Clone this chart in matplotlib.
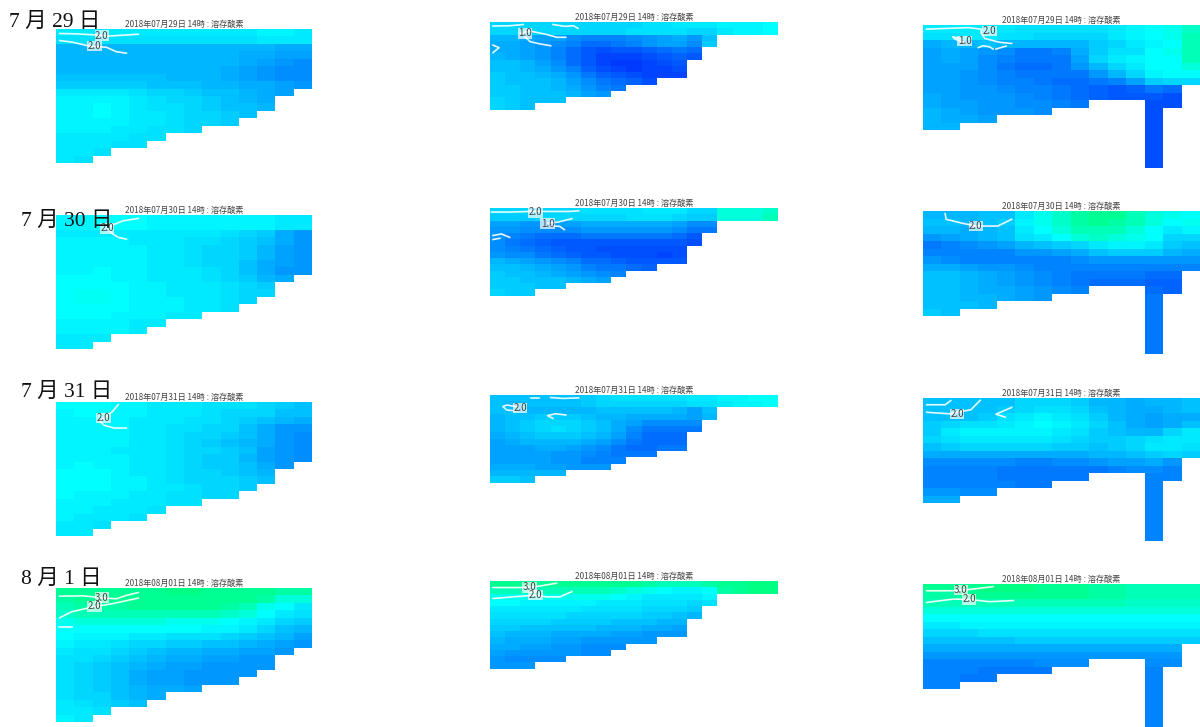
import numpy as np
import matplotlib
matplotlib.use('Agg')
import matplotlib.pyplot as plt
from matplotlib.colors import LinearSegmentedColormap

n = np.nan

#Dates and labels
day_labels = ['7 月 29 日', '7 月 30 日', '7 月 31 日', '8 月 1 日']
day_stamps = ['2018年07月29日', '2018年07月30日', '2018年07月31日', '2018年08月01日']

#Cell values (0 = blue, 10 = cyan, 14 = green)
west_0729 = [
    [9, 9, 9, 9, 9, 9, 9, 9, 9, 9, 9, 9.5, 9.5, 9],
    [8.5, 8.5, 8.5, 8.5, 8.5, 8.5, 8.5, 8.5, 8.5, 8.5, 8.5, 9, 9, 9],
    [6.5, 6.5, 6.5, 6.5, 6.5, 6.5, 6.5, 6.5, 6.5, 6.5, 6.5, 6.5, 6, 6],
    [6.5, 6.5, 6.5, 6.5, 6.5, 6.5, 6.5, 6.5, 6.5, 6.5, 6, 6, 5.5, 5.5],
    [6.5, 6.5, 6.5, 6.5, 6.5, 6.5, 6.5, 6.5, 6.5, 6.5, 6, 5.5, 5, 4.5],
    [6.5, 6.5, 6.5, 6.5, 6.5, 6.5, 6.5, 6.5, 6.5, 6, 5.5, 5, 4.5, 4.5],
    [7, 7, 7, 7, 7, 7, 6.5, 6.5, 6.5, 6, 5.5, 5, 4.5, 4.5],
    [7.5, 7.5, 7.5, 7.5, 7.5, 7, 7, 7, 6.5, 6.5, 6, 6, 5.5, 5],
    [9, 9, 9, 9, 8.5, 8, 8, 7.5, 7, 7, 6.5, 6, 5.5],
    [9.5, 9.5, 9.5, 9.5, 9, 8.5, 8, 8, 7.5, 7, 6.5, 6],
    [9.5, 9.5, 10, 9.5, 9, 8.5, 8.5, 8, 7.5, 7, 7, 6.5],
    [9.5, 9.5, 10, 9.5, 9, 9, 8.5, 8, 8, 7.5, 7],
    [9.5, 9.5, 9.5, 9.5, 9, 9, 8.5, 8, 8, 7.5],
    [9.5, 9.5, 9.5, 9, 9, 8.5, 8.5, 8],
    [9, 9, 9, 9, 8.5, 8.5],
    [9, 9, 9, 8.5, 8.5],
    [9, 9, 8.5],
    [9, 8.5],
]
west_0730 = [
    [9.5, 9.5, 10, 10, 10, 9.5, 9.5, 9.5, 9.5, 9.5, 9.5, 9.5, 9, 9],
    [9.5, 9.5, 10, 10, 10, 9.5, 9.5, 9.5, 9.5, 9.5, 9.5, 9.5, 9, 9],
    [9, 9, 9, 9, 9, 9, 9, 9, 9, 8.5, 8, 7.5, 6, 5],
    [9.5, 9.5, 9.5, 9.5, 9, 9, 9, 8.5, 8.5, 8, 7.5, 7, 6, 5],
    [9.5, 9.5, 9.5, 9.5, 9.5, 9, 9, 8.5, 8, 8, 7.5, 6.5, 5.5, 5],
    [9.5, 9.5, 9.5, 9.5, 9.5, 9, 9, 8.5, 8, 8, 7.5, 6.5, 5.5, 5],
    [9.5, 9.5, 9.5, 9.5, 9.5, 9, 9, 8.5, 8, 8, 7, 6, 5.5, 5],
    [9.5, 9.5, 10, 9.5, 9.5, 9, 9, 9, 8.5, 8, 7, 6, 5, 5],
    [10, 10, 10, 9.5, 9.5, 9, 9, 9, 8.5, 8, 7.5, 6.5, 6],
    [10, 10, 10, 10, 9.5, 9.5, 9, 9, 9, 8.5, 8, 7.5],
    [10, 10.3, 10.3, 10, 9.5, 9.5, 9, 9, 9, 8.5, 8, 8],
    [10, 10.3, 10.3, 10, 9.5, 9.5, 9.5, 9, 9, 8.5, 8],
    [10, 10, 10, 10, 9.5, 9.5, 9.5, 9, 9, 8.5],
    [10, 10, 10, 9.5, 9.5, 9.5, 9, 9],
    [9.5, 9.5, 9.5, 9.5, 9, 9],
    [9.5, 9.5, 9.5, 9.5, 9],
    [9, 9, 9],
    [9, 9],
]
west_0731 = [
    [10, 10, 10, 9.5, 9.5, 9, 9, 9, 8.5, 8.5, 8.5, 8, 7.5, 7],
    [9.5, 10, 10, 9.5, 9.5, 9, 9, 9, 8.5, 8, 8, 8, 7, 7],
    [9.5, 9.5, 9.5, 9.5, 9, 9, 9, 8.5, 8.5, 8, 7.5, 7, 6.5, 6],
    [9.5, 9.5, 9.5, 9.5, 9, 9, 8.5, 8.5, 8, 8, 7, 6, 5, 5],
    [9.5, 9.5, 9.5, 9.5, 9, 9, 8.5, 8, 8, 7.5, 7, 6, 5, 4.5],
    [9.5, 9.5, 9.5, 9.5, 9, 9, 8.5, 8, 7.5, 7, 6.5, 6, 5, 4.5],
    [9.5, 9.5, 9.5, 9, 9, 9, 8.5, 8, 8, 7.5, 7, 5.5, 5, 4.5],
    [9.5, 9.5, 9.5, 9.5, 9, 9, 8.5, 8, 7.5, 7.5, 6.5, 5.5, 5, 4.5],
    [9.5, 10, 9.5, 9.5, 9, 9, 8.5, 8, 7.5, 7.5, 7, 6, 5],
    [10, 10, 10, 9.5, 9, 9, 8.5, 8, 8, 7.5, 7, 6.5],
    [10, 10, 10, 9.5, 9.5, 9, 8.5, 8, 8, 8, 7.5, 7],
    [10, 10, 10, 9.5, 9.5, 9, 9, 8.5, 8, 8, 7.5],
    [10, 9.5, 9.5, 9.5, 9, 9, 8.5, 8.5, 8, 8],
    [9.5, 9.5, 9.5, 9, 9, 9, 8.5, 8.5],
    [9.5, 9.5, 9, 9, 9, 8.5],
    [9.5, 9, 9, 9, 8.5],
    [9, 9, 8.5],
    [9, 9],
]
west_0801 = [
    [13, 13, 13, 13, 13, 13, 13.5, 13.5, 13, 13, 13, 13, 12.5, 12.5],
    [12.5, 13, 13, 13, 13, 13, 13, 13, 13, 13, 13, 12.5, 11, 11],
    [12, 12.5, 12.5, 12.5, 13, 13, 13, 13, 13, 12.5, 12, 10.5, 10, 9],
    [11.5, 12, 12, 12, 12, 12, 12, 12, 12, 11.5, 11, 10, 9, 8.5],
    [10.5, 11, 11, 11, 11, 11, 10.5, 10.5, 10.5, 10, 9.5, 9, 8, 7.5],
    [10, 10, 10, 10, 10, 10, 10, 10, 9.5, 9.5, 9, 8, 7, 6.5],
    [10, 9.5, 9.5, 9.5, 9, 9, 8.5, 8.5, 8.5, 8, 7.5, 7, 6.5, 5.5],
    [9.5, 9, 9, 8.5, 8, 8, 7.5, 7.5, 7, 7, 6.5, 6, 5.5, 5],
    [9, 8.5, 8.5, 8, 7.5, 7, 6.5, 6.5, 6, 6, 5.5, 5.5, 5],
    [8.5, 8.5, 8, 7.5, 7, 6.5, 6, 6, 5.5, 5.5, 5, 5],
    [8.5, 8, 7.5, 7, 6.5, 6, 5.5, 5.5, 5, 5, 5, 5],
    [8.5, 8, 7.5, 7, 6, 5.5, 5.5, 5, 5, 5, 5],
    [8.5, 8, 7.5, 7, 6, 5.5, 5.5, 5, 5, 5],
    [8.5, 8, 7.5, 7, 6.5, 6, 6, 5.5],
    [8.5, 8, 8, 7, 6.5, 6],
    [9, 8.5, 8, 7.5, 7],
    [9, 9, 8.5],
    [9.5, 9],
]

mid_0729 = [
    [8, 8, 8, 8, 8, 8, 8, 8, 8, 8, 8.5, 8.5, 9, 9, 9, 9.5, 9.5, 9.5, 10],
    [8, 8, 8, 8, 8, 8, 8, 8, 8, 8.5, 8.5, 8.5, 8.5, 8, 8, 9, 9.5, 9.5, 10],
    [6.5, 6.5, 6, 5.5, 5.5, 4.5, 4, 4, 4, 4.5, 5, 5.5, 6, 5, 7],
    [6, 6, 5.5, 5, 4.5, 4, 3, 3, 3.5, 4, 5, 5.5, 5.5, 4.5, 7.5],
    [6, 6, 5.5, 5, 4, 3, 2, 1.5, 2, 2, 2.5, 3, 3.5, 3],
    [6.5, 6, 5.5, 5, 4, 3, 2, 1, 1, 1, 1.5, 2, 2.5, 2],
    [7, 7, 6.5, 5.5, 4.5, 3, 2, 1, 0.5, 0.5, 1, 1.5, 2],
    [7, 7, 6.5, 6, 5, 4, 2.5, 1.5, 1, 0.5, 1, 1, 1.5],
    [7.5, 7, 7, 6.5, 6, 5, 3.5, 2.5, 2, 1.5, 1, 1, 1],
    [7.5, 7, 7, 7, 6.5, 5.5, 4.5, 3.5, 3, 2.5, 1.5],
    [7.5, 7.5, 7, 7, 6.5, 6, 5, 4, 3.5],
    [7.5, 7.5, 7, 7, 7, 6.5, 5.5, 5],
    [8, 7.5, 7, 7, 7],
    [8, 7.5, 7],
]
mid_0730 = [
    [8, 8, 8, 8, 8, 8, 8.5, 8.5, 8.5, 8.5, 9, 9, 9, 8, 8, 11, 11, 11, 11.5],
    [7.5, 7.5, 7.5, 8, 8, 8, 8, 8, 8, 8.5, 8.5, 8.5, 8, 7.5, 7.5, 11, 11, 11, 12],
    [5.5, 5.5, 5, 5, 5.5, 5.5, 6, 6, 6, 6, 6, 6, 5.5, 4.5, 4.5],
    [5, 5, 4.5, 4.5, 4.5, 4.5, 5, 5, 5, 5, 5, 5, 4.5, 3.5, 3.5],
    [5, 4, 3.5, 3, 3, 3, 3.5, 3.5, 3.5, 3.5, 3.5, 3.5, 3, 2],
    [4.5, 3.5, 3, 2.5, 2, 2, 2, 2, 2, 2, 2, 2, 2, 1.5],
    [4.5, 4, 3.5, 3, 2.5, 2, 2, 1.5, 1.5, 1.5, 1.5, 1.5, 1.5],
    [5, 4.5, 4.5, 3.5, 3, 2.5, 2, 2, 1.5, 1.5, 1.5, 1, 1.5],
    [6.5, 6, 5.5, 5, 4.5, 4, 3, 3, 2.5, 2, 2, 2, 2],
    [7, 7, 6.5, 6, 5.5, 5, 4, 3.5, 3.5, 3, 2.5],
    [7.5, 7, 7, 6.5, 6, 5.5, 5, 4.5, 4],
    [7.5, 7.5, 7, 7, 7, 6.5, 6, 5.5],
    [7.5, 7.5, 7.5, 7, 7],
    [8, 7.5, 7.5],
]
mid_0731 = [
    [7, 7, 7, 7, 7, 7, 7.5, 8, 8.5, 8.5, 8.5, 8.5, 8.5, 9, 9, 9.5, 9.5, 10, 10],
    [7, 6.5, 7, 7, 7, 7, 7.5, 8, 8, 8, 8, 8, 8, 8.5, 8.5, 9, 9.5, 9.5, 10],
    [7, 7, 6.5, 6.5, 6.5, 6.5, 6.5, 7, 7, 7, 7, 7, 6.5, 5.5, 7],
    [6.5, 7, 7, 7.5, 7.5, 7.5, 7, 6.5, 6.5, 6, 6, 6, 6, 5.5, 6.5],
    [6.5, 7, 7.5, 8, 8, 8, 7.5, 7, 6, 5.5, 4.5, 4.5, 4.5, 4.5],
    [6.5, 7, 7.5, 8, 8.5, 8, 7.5, 7, 6, 4.5, 3.5, 3.5, 3.5, 3.5],
    [6, 6.5, 7, 7.5, 7.5, 7.5, 7, 6.5, 5.5, 4, 3, 3, 3],
    [5.5, 6, 6.5, 6.5, 6.5, 6.5, 6, 5.5, 4.5, 3.5, 3, 3, 3],
    [5.5, 5.5, 5.5, 6, 6, 5.5, 5, 4.5, 3.5, 3, 3, 3.5, 3.5],
    [5.5, 5.5, 5.5, 5.5, 5, 5, 4.5, 4, 3.5, 3.5, 3.5],
    [5.5, 5.5, 5.5, 5.5, 5, 5, 4, 4, 4],
    [6, 6, 6, 5.5, 5.5, 5, 5, 5],
    [6.5, 6.5, 6.5, 6.5, 6.5],
    [7.5, 7.5, 7],
]
mid_0801 = [
    [13, 13, 13, 13, 13, 13, 13, 13, 13, 13, 12.5, 12, 12, 12, 12.5, 13, 13, 13.5, 13.5],
    [12, 12, 12, 12, 12, 12, 12, 12, 11.5, 11, 10.5, 10, 9.5, 9.5, 10, 12.5, 13, 13.5, 13.5],
    [10.5, 10.5, 10.5, 10.5, 10.5, 10.5, 10.5, 10.5, 10, 9.5, 9, 9, 9, 9, 9.5],
    [10, 10, 9.5, 9.5, 9.5, 9.5, 9.5, 9, 9, 9, 8.5, 8.5, 8.5, 8, 8.5],
    [9, 9, 9, 9, 9, 9, 8.5, 8.5, 8.5, 8.5, 8, 8, 8, 7.5],
    [8.5, 8.5, 8.5, 8.5, 8.5, 8, 8, 8, 8, 8, 7.5, 7.5, 7, 6.5],
    [8, 8, 8, 8, 7.5, 7.5, 7.5, 7.5, 7, 7, 7, 6.5, 6.5],
    [7.5, 7.5, 7, 7, 7, 7, 7, 6.5, 6.5, 6.5, 6, 6, 5.5],
    [7, 6.5, 6.5, 6.5, 6, 6, 6, 6, 5.5, 5.5, 5, 5, 5],
    [6.5, 6, 6, 6, 5.5, 5.5, 5, 5, 5, 5, 5],
    [6, 6, 5.5, 5.5, 5, 5, 4.5, 4.5, 4.5],
    [5.5, 5, 5, 5, 5, 5, 4.5, 4.5],
    [5, 4.5, 4.5, 4.5, 4.5],
    [5, 5, 5],
]

east_0729 = [
    [9, 9, 9, 9, 9, 8.5, 8.5, 8.5, 8.5, 8.5, 9, 9.5, 10, 10.5, 11.5],
    [8.5, 8.5, 9, 9, 8.5, 8.5, 8, 8, 8, 8, 9, 9.5, 10, 10.5, 12],
    [6, 6.5, 6.5, 7, 6.5, 6.5, 6.5, 6.5, 6.5, 7.5, 8, 9, 9.5, 10, 12],
    [5.5, 6, 5.5, 5, 4.5, 3.5, 3.5, 4, 6, 7.5, 8.5, 8.5, 10, 10.5, 12],
    [5.5, 6, 5.5, 4.5, 4, 3.5, 3.5, 3.5, 5.5, 8, 9, 9.5, 10, 10, 12],
    [5.5, 5.5, 5.5, 4.5, 3.5, 3, 3, 3.5, 5, 6.5, 8, 9, 10, 10, 11],
    [5.5, 5.5, 5, 4.5, 4, 3.5, 3.5, 3.5, 3.5, 5, 6.5, 8, 9.5, 10, 10],
    [5.5, 5.5, 5, 4.5, 4, 4, 3.5, 3, 3, 3.5, 4, 5.5, 7.5, 8, 8],
    [5.5, 5.5, 5, 5, 4.5, 4, 4, 3.5, 3, 2.5, 2, 2.5, 3.5, 3],
    [6, 5.5, 5, 5, 5, 4.5, 4, 3.5, 3, 2.5, 2, 2, 2, 1.5],
    [6, 5.5, 5.5, 5, 5, 4.5, 4.5, 4, 3.5, n, n, n, 1.5, 1.5],
    [6.5, 6, 5.5, 5, 5, 5, 4.5, n, n, n, n, n, 1.5],
    [6.5, 6, 6, 5.5, n, n, n, n, n, n, n, n, 1.5],
    [6.5, 6.5, n, n, n, n, n, n, n, n, n, n, 1.5],
    [n, n, n, n, n, n, n, n, n, n, n, n, 1.5],
    [n, n, n, n, n, n, n, n, n, n, n, n, 1.5],
    [n, n, n, n, n, n, n, n, n, n, n, n, 1.5],
    [n, n, n, n, n, n, n, n, n, n, n, n, 1.5],
    [n, n, n, n, n, n, n, n, n, n, n, n, 1.5],
]
east_0730 = [
    [6.5, 6.5, 6.5, 7, 7, 9, 10.5, 11.5, 12.5, 13, 13, 12, 11, 10.5, 10],
    [7, 7, 6.5, 7, 7.5, 9.5, 10.5, 11.5, 12.5, 13, 12.5, 12, 11, 10, 10.5],
    [6.5, 6.5, 6, 6.5, 7, 9, 10, 11, 12, 12, 12, 11, 10, 9, 9.5],
    [5, 5.5, 6, 6.5, 7, 8.5, 9, 10, 11, 11.5, 11, 10.5, 10, 8, 8],
    [3.5, 4, 4.5, 5, 5.5, 6.5, 7, 7.5, 8, 9, 9.5, 9.5, 9, 7.5, 7],
    [4, 4, 4, 4, 4, 5, 5, 5.5, 6, 7, 7.5, 7.5, 7.5, 6.5, 6],
    [5, 4.5, 4, 4, 4, 4, 4, 4, 4.5, 5, 5, 5, 5, 5, 5],
    [6, 6, 5.5, 5, 5, 4.5, 4, 4, 4, 4, 4, 4, 4, 4, 4],
    [7, 7, 6.5, 6, 5.5, 5, 4.5, 4, 3.5, 3.5, 3.5, 3.5, 3, 3],
    [7, 7, 6.5, 6, 5.5, 5, 4.5, 4, 3.5, 3, 3, 3, 2.5, 2.5],
    [7, 7, 6.5, 6, 6, 5.5, 5, 4.5, 4, n, n, n, 3, 2.5],
    [7, 7, 6.5, 6.5, 6, 5.5, 5, n, n, n, n, n, 3.5],
    [7, 7, 7, 6.5, n, n, n, n, n, n, n, n, 3.5],
    [7.5, 7, n, n, n, n, n, n, n, n, n, n, 3.5],
    [n, n, n, n, n, n, n, n, n, n, n, n, 3.5],
    [n, n, n, n, n, n, n, n, n, n, n, n, 3.5],
    [n, n, n, n, n, n, n, n, n, n, n, n, 3.5],
    [n, n, n, n, n, n, n, n, n, n, n, n, 3.5],
    [n, n, n, n, n, n, n, n, n, n, n, n, 3.5],
]
east_0731 = [
    [7, 7, 7, 7, 7, 8, 8, 8, 7.5, 6.5, 6.5, 6, 6.5, 6.5, 7],
    [7, 7, 7, 7, 7.5, 8, 8.5, 8.5, 8, 7, 6.5, 6, 6, 6.5, 7],
    [7, 7, 7, 7.5, 8.5, 9, 9.5, 9, 8.5, 7.5, 6.5, 6, 5.5, 6, 6],
    [7.5, 8, 8.5, 8.5, 9, 9.5, 10, 9.5, 9, 8, 7, 6, 5.5, 6, 7],
    [7.5, 9, 9.5, 9.5, 9.5, 9.5, 9.5, 9, 8.5, 7.5, 7, 6.5, 6.5, 8, 9],
    [8, 8.5, 9, 9, 9, 9, 9, 8.5, 8, 7.5, 7.5, 8, 8.5, 9, 9],
    [7, 7.5, 8, 8, 8, 8, 8, 7.5, 7.5, 7, 7.5, 8, 9, 9, 8.5],
    [6, 6, 6, 6, 6, 6, 6, 6, 6, 6.5, 6.5, 7, 7.5, 8, 7.5],
    [4.5, 4.5, 4.5, 4.5, 4.5, 4, 4, 4.5, 4.5, 5, 5.5, 5.5, 6, 5],
    [4, 4, 4, 4, 3.5, 3.5, 3.5, 3.5, 3.5, 3.5, 4, 4.5, 4.5, 4],
    [4, 4, 4, 4, 3.5, 3.5, 3.5, 3.5, 3.5, n, n, n, 4, 4],
    [4, 4, 4, 4, 4, 3.5, 3.5, n, n, n, n, n, 4],
    [5, 5, 4.5, 4.5, n, n, n, n, n, n, n, n, 4],
    [6, 6, n, n, n, n, n, n, n, n, n, n, 4],
    [n, n, n, n, n, n, n, n, n, n, n, n, 4],
    [n, n, n, n, n, n, n, n, n, n, n, n, 4],
    [n, n, n, n, n, n, n, n, n, n, n, n, 4],
    [n, n, n, n, n, n, n, n, n, n, n, n, 4],
    [n, n, n, n, n, n, n, n, n, n, n, n, 4],
]
east_0801 = [
    [13, 13, 13, 13.5, 13.5, 13.5, 13, 13, 13, 12.5, 12.5, 12, 12, 12, 12],
    [12.5, 12.5, 13, 13, 13, 13, 13, 13, 13, 12.5, 12.5, 12, 12, 12, 12],
    [12, 12, 12, 12, 12, 12, 12, 12, 12, 12, 12, 11.5, 11.5, 11.5, 11.5],
    [11, 11, 11, 11, 11, 11, 11, 11, 11, 11, 11, 11, 11, 11, 11],
    [10, 10, 10, 10, 10, 10, 10, 10, 10, 10, 10, 10, 10, 10, 10],
    [9, 9, 9.5, 9.5, 9.5, 9.5, 9.5, 9.5, 9.5, 9.5, 9.5, 9.5, 9.5, 9.5, 9.5],
    [8, 8, 8, 8.5, 8.5, 8.5, 8.5, 8.5, 8.5, 8.5, 8.5, 8.5, 8.5, 8.5, 8.5],
    [7, 7, 7, 7, 7, 7.5, 7.5, 7.5, 7.5, 7.5, 7.5, 7.5, 7.5, 7.5, 7.5],
    [6, 6, 6, 6, 6, 6, 6, 6, 6, 6, 6, 6, 6, 6],
    [5, 5, 5, 5, 5, 5, 5, 5, 5, 5, 5, 5, 5, 5],
    [4, 4, 4, 4, 4, 4, 4.5, 4.5, 4.5, n, n, n, 4.5, 4.5],
    [4, 4, 4, 3.5, 3.5, 3.5, 3.5, n, n, n, n, n, 4],
    [4, 4, 3.5, 3.5, n, n, n, n, n, n, n, n, 4],
    [4, 4, n, n, n, n, n, n, n, n, n, n, 4],
    [n, n, n, n, n, n, n, n, n, n, n, n, 4],
    [n, n, n, n, n, n, n, n, n, n, n, n, 4],
    [n, n, n, n, n, n, n, n, n, n, n, n, 4],
    [n, n, n, n, n, n, n, n, n, n, n, n, 4],
    [n, n, n, n, n, n, n, n, n, n, n, n, 4],
]

#Contour traces in cell units: each one is (x values, y values)
west_0729_lines = [([.2, 1.1, 2.2, 2.9, 4.5], [.6, .65, .8, .95, .7]),
                   ([.2, .85, 1.85, 2.75, 3.3, 3.85], [1.55, 1.75, 2.3, 2.45, 3.05, 3.25])]
west_0729_marks = [(2.5, .9, '2.0'), (2.1, 2.3, '2.0')]
west_0730_lines = [([4.5, 3.65, 3.1, 2.85, 3.05, 3.4, 3.85], [.45, .8, 1.35, 1.8, 2.45, 3, 3.25])]
west_0730_marks = [(2.8, 1.8, '2.0')]
west_0731_lines = [([3.4, 3.1, 2.65, 2.4, 2.65, 3.2, 3.85], [.35, 1.25, 2.15, 2.6, 3.15, 3.5, 3.5])]
west_0731_marks = [(2.6, 2.15, '2.0')]
west_0801_lines = [([.2, 1.5, 2.4, 3.3, 3.85, 4.5], [1.1, 1.05, 1.3, 1.45, 1, .6]),
                   ([.2, .85, 2, 3.1, 4.5], [4, 3.2, 2.55, 2.1, 1.35]),
                   ([.15, .85], [5.3, 5.3])]
west_0801_marks = [(2.5, 1.3, '3.0'), (2.1, 2.45, '2.0')]

mid_0729_lines = [([.2, 1.3, 2.2], [.65, .6, .4]),
                  ([4.15, 4.95, 5.5, 5.8], [.4, .7, .6, 1]),
                  ([2, 2.65, 3.75, 4.4, 5], [1.8, 1.45, 2, 2.45, 2.45]),
                  ([2.3, 2.65, 3.3, 4], [2.35, 3.15, 3.5, 3.8]),
                  ([.2, .6, .2], [3.7, 4.1, 4.9])]
mid_0729_marks = [(2.3, 1.8, '1.0')]
mid_0730_lines = [([.1, 1.3, 2.6, 3.3, 5.2, 5.85], [.65, .65, .55, .55, .55, .45]),
                  ([3.85, 4.5, 5.4], [2.4, 2.25, 1.7]),
                  ([4.05, 4.6, 4.9], [2.85, 2.95, 3.45]),
                  ([.2, .75, 1.3], [4.4, 4.15, 4.7]),
                  ([.2, .65], [5.05, 4.85])]
mid_0730_marks = [(3, .7, '2.0'), (3.8, 2.5, '1.0')]
mid_0731_lines = [([2.7, 3.2], [.45, .45]),
                  ([4, 4.85, 5.85], [.4, .55, .45]),
                  ([1.7, 1.1, .85, 1.1, 1.7], [1.85, 1.6, 1.85, 2.4, 2.55]),
                  ([5, 4.3, 3.8, 4.15], [3.2, 3, 3.3, 3.75])]
mid_0731_marks = [(2, 2.1, '2.0')]
mid_0801_lines = [([.2, 2.2, 3.3, 4.4], [1.05, 1.05, .8, .35]),
                  ([.2, 1.75, 3, 3.75, 4.6, 5.4], [2.8, 2.5, 2.25, 2.55, 2.55, 1.7])]
mid_0801_marks = [(2.6, 1, '3.0'), (3, 2.25, '2.0')]

east_0729_lines = [([.2, 1.3, 2.45, 3.15, 3.15, 3.35, 4.15, 4.8], [.55, .45, .35, .55, 1.1, 1.8, 2.3, 2.45]),
                   ([2, 1.6, 1.75, 2.2], [1.8, 1.55, 1.9, 2.3]),
                   ([3, 3.25, 3.6, 3.8], [3, 2.75, 2.9, 3.2]),
                   ([3.95, 4.5], [3.2, 2.8])]
east_0729_marks = [(3.6, .8, '2.0'), (2.25, 2.1, '1.0')]
east_0730_lines = [([1.2, 1.25, 2, 2.85, 4.05, 4.8], [.35, 1.1, 1.55, 2, 2, 1.1])]
east_0730_marks = [(2.85, 2, '2.0')]
east_0731_lines = [([.2, 1.2, 1.5], [.9, .9, .35]),
                   ([.2, 1.45, 2.6, 3.1], [1.9, 2.1, 1.55, .3]),
                   ([4.8, 3.95, 4.45], [1.25, 2.15, 2.55])]
east_0731_marks = [(1.85, 2.1, '2.0')]
east_0801_lines = [([.2, 1.65, 2.6, 3.8], [.9, .9, .7, .35]),
                   ([.2, 1.65, 2.5, 3.6, 4.9], [2.45, 2, 2.05, 2.35, 2.2])]
east_0801_marks = [(2.05, .8, '3.0'), (2.5, 2.05, '2.0')]

#Panel layout in pixels of the 1200x727 figure
W, H = 1200, 727
cmap = LinearSegmentedColormap.from_list('do', [(0, '#0030ff'), (10 / 14, '#00ffff'), (1, '#00ff70')])

west_tops = [29, 215, 402, 588]
mid_tops = [22, 208, 395, 581]
east_tops = [25, 211, 398, 584]
columns = [
    (56, 256, 134, west_tops, [west_0729, west_0730, west_0731, west_0801],
     [west_0729_lines, west_0730_lines, west_0731_lines, west_0801_lines],
     [west_0729_marks, west_0730_marks, west_0731_marks, west_0801_marks]),
    (490, 288, 87.5, mid_tops, [mid_0729, mid_0730, mid_0731, mid_0801],
     [mid_0729_lines, mid_0730_lines, mid_0731_lines, mid_0801_lines],
     [mid_0729_marks, mid_0730_marks, mid_0731_marks, mid_0801_marks]),
    (923, 277, 143, east_tops, [east_0729, east_0730, east_0731, east_0801],
     [east_0729_lines, east_0730_lines, east_0731_lines, east_0801_lines],
     [east_0729_marks, east_0730_marks, east_0731_marks, east_0801_marks]),
]

plt.rcParams['font.family'] = ['Noto Sans CJK JP', 'DejaVu Sans']
fig = plt.figure(figsize=(W / 100, H / 100), dpi=100)


def pad_rows(rows):
    width = max(len(r) for r in rows)
    return np.array([r + [n] * (width - len(r)) for r in rows], dtype=float)


for x0, w, h, tops, grids, traces, marks in columns:
    for i in range(4):
        ax = fig.add_axes([x0 / W, 1 - (tops[i] + h) / H, w / W, h / H])
        grid = np.ma.masked_invalid(pad_rows(grids[i]))
        ax.pcolormesh(grid, cmap=cmap, vmin=0, vmax=14, edgecolors='none')
        for xs, ys in traces[i]:
            ax.plot(xs, ys, color='white', lw=1.2, alpha=0.9)
        for mx, my, s in marks[i]:
            ax.text(mx, my, s, fontsize=7, color='#444444', ha='center', va='center',
                    bbox=dict(facecolor='white', edgecolor='none', pad=0.2, alpha=0.7))
        ax.set_xlim(0, grid.shape[1])
        ax.set_ylim(grid.shape[0], 0)
        ax.axis('off')
        ax.set_title(day_stamps[i] + ' 14時 : 溶存酸素', fontsize=5.9, color='#444444', pad=1.5)

#Date labels on the left
label_x = [9, 21, 21, 21]
label_y = [22, 221, 392, 579]
for s, lx, ly in zip(day_labels, label_x, label_y):
    fig.text(lx / W, 1 - ly / H, s, fontsize=15.5, va='center', color='#111111',
             family=['Liberation Serif', 'Noto Sans CJK JP'])

fig.savefig('out.png', dpi=100)
